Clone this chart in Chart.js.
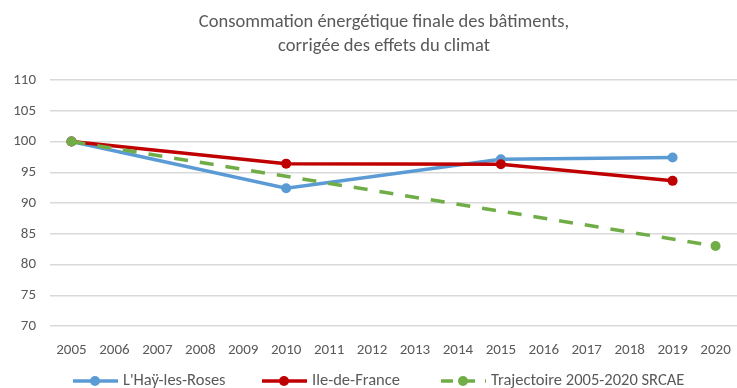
<!DOCTYPE html>
<html lang="fr">
<head>
<meta charset="utf-8">
<script src="https://cdn.jsdelivr.net/npm/chart.js@4/dist/chart.umd.min.js"></script>
<style>
  html, body { margin: 0; padding: 0; background: #fff; overflow: hidden; }
  #wrap { width: 742px; height: 388px; }
</style>
</head>
<body>
<div id="wrap"><canvas id="graph"></canvas></div>
<script>
const annees = ['2005', '2006', '2007', '2008', '2009', '2010', '2011', '2012',
  '2013', '2014', '2015', '2016', '2017', '2018', '2019', '2020'];
const haye = [100, null, null, null, null, 92.4, null, null, null, null, 97.1, null, null, null, 97.4, null];
const idf = [100, null, null, null, null, 96.4, null, null, null, null, 96.3, null, null, null, 93.6, null];
const srcae = [100, null, null, null, null, null, null, null, null, null, null, null, null, null, null, 83];
const titre = ['Consommation énergétique finale des bâtiments,', 'corrigée des effets du climat'];
const police = "Calibri, Carlito, Lato, sans-serif";
const gris = '#595959';

// legende dessinee a la main : trait + rond comme dans Excel
const legendeBas = {
  id: 'legendeBas',
  afterDraw(chart) {
    const ctx = chart.ctx;
    const y = 381;
    const departs = [73, 262, 441];
    ctx.save();
    ctx.font = '16.5px ' + police;
    ctx.textBaseline = 'middle';
    chart.data.datasets.forEach((ds, i) => {
      const x = departs[i];
      ctx.strokeStyle = ds.borderColor;
      ctx.lineWidth = 3.5;
      ctx.setLineDash(ds.borderDash && ds.borderDash.length ? [12, 10] : []);
      ctx.beginPath();
      ctx.moveTo(x, y);
      ctx.lineTo(x + 45, y);
      ctx.stroke();
      ctx.setLineDash([]);
      ctx.fillStyle = ds.borderColor;
      ctx.beginPath();
      ctx.arc(x + 22, y, 5, 0, Math.PI * 2);
      ctx.fill();
      ctx.fillStyle = gris;
      ctx.fillText(ds.label, x + 50, y);
    });
    ctx.restore();
  }
};

const enTete = {
  id: 'enTete',
  afterDraw(chart) {
    const ctx = chart.ctx;
    ctx.save();
    ctx.font = '18.5px ' + police;
    ctx.fillStyle = gris;
    ctx.textAlign = 'center';
    ctx.textBaseline = 'middle';
    ctx.fillText(titre[0], 384, 22);
    ctx.fillText(titre[1], 384, 46);
    ctx.restore();
  }
};

new Chart(document.getElementById('graph'), {
  type: 'line',
  data: {
    labels: annees,
    datasets: [
      { label: "L'Haÿ-les-Roses", data: haye, borderColor: '#5B9BD5', backgroundColor: '#5B9BD5',
        borderWidth: 3.5, pointRadius: 5, pointBorderWidth: 0, spanGaps: true, tension: 0, order: 3 },
      { label: 'Ile-de-France', data: idf, borderColor: '#C00000', backgroundColor: '#C00000',
        borderWidth: 3.5, pointRadius: 5, pointBorderWidth: 0, spanGaps: true, tension: 0, order: 2 },
      { label: 'Trajectoire 2005-2020 SRCAE', data: srcae, borderColor: '#70AD47', backgroundColor: '#70AD47',
        borderWidth: 3.5, borderDash: [14, 12], pointRadius: 5, pointBorderWidth: 0, spanGaps: true, tension: 0, order: 1 }
    ]
  },
  options: {
    responsive: true,
    maintainAspectRatio: false,
    animation: false,
    layout: { padding: { top: 80, bottom: 22, left: 0, right: 0 } },
    plugins: {
      legend: { display: false },
      title: { display: false },
      tooltip: { enabled: false }
    },
    scales: {
      x: {
        offset: true,
        grid: { display: false },
        border: { display: false },
        ticks: { color: gris, font: { family: police, size: 15 }, maxRotation: 0, autoSkip: false, padding: 7 }
      },
      y: {
        min: 70,
        max: 110,
        afterFit(scale) { scale.width = 50; },
        grid: { color: '#d9d9d9', lineWidth: 1.5, drawTicks: false },
        border: { display: false },
        ticks: { stepSize: 5, color: gris, font: { family: police, size: 15 }, padding: 14 }
      }
    }
  },
  plugins: [enTete, legendeBas]
});
</script>
</body>
</html>
